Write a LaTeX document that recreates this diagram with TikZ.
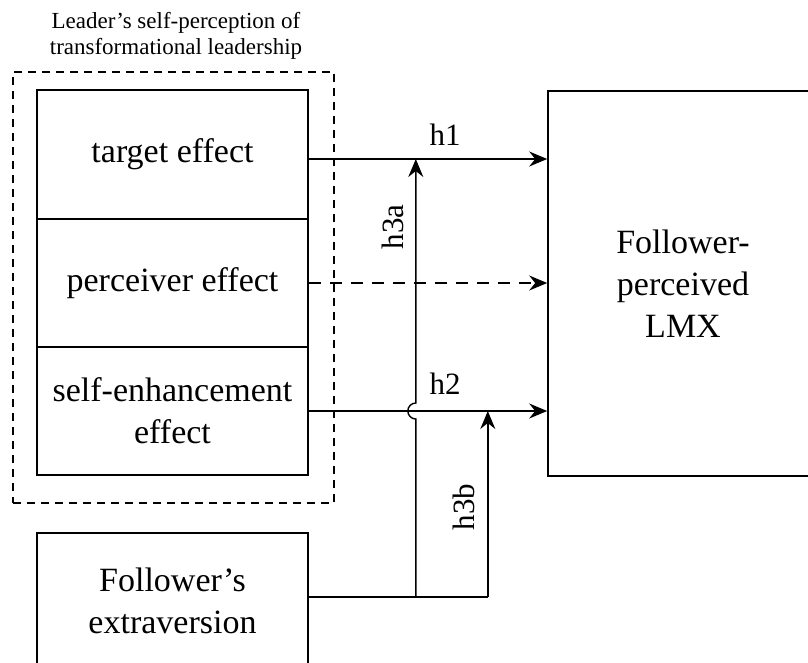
\documentclass[tikz,border=0pt]{standalone}
\usepackage{fontspec}
\setmainfont{Liberation Serif}
\usetikzlibrary{arrows.meta,calc}
\begin{document}
\begin{tikzpicture}[x=1pt,y=-1pt,
  box/.style={draw, line width=1.6pt, minimum width=271pt, align=center, inner sep=0pt, font=\fontsize{34}{42}\selectfont},
  arr/.style={line width=1.4pt, -{Stealth[length=18pt,width=15pt,inset=6pt]}},
  plain/.style={line width=1.4pt},
  hlab/.style={font=\fontsize{31}{36}\selectfont, inner sep=0pt},
  grpbox/.style={draw, line width=1.4pt, dash pattern=on 8pt off 6pt, minimum width=321pt, minimum height=431pt, inner sep=0pt},
]
\useasboundingbox (0,0) rectangle (808,662);

\node[align=center, font=\fontsize{23}{26}\selectfont, inner sep=0pt] (title) at (176,36) {Leader’s self-perception of\\transformational leadership};
\node[grpbox] (grp) at (173.5,287.5) {};

\node[box, minimum height=129pt] (te) at (172.5,154.5) {target effect};
\node[box, minimum height=128pt] (pe) at (172.5,283) {perceiver effect};
\node[box, minimum height=128pt] (se) at (172.5,411) {self-enhancement\\effect};
\node[box, minimum height=136pt] (fe) at (172.5,601) {Follower’s\\extraversion};
\node[box, minimum width=270pt, minimum height=385pt] (lmx) at (683,283.5) {Follower-\\perceived\\LMX};

\coordinate (h1s) at ([yshift=-4.5pt]te.east);
\draw[arr] (h1s) -- (h1s -| lmx.west);
\draw[arr, dash pattern=on 12pt off 9pt] (pe.east) -- (pe.east -| lmx.west);
\draw[arr] (se.east) -- (se.east -| lmx.west);

\coordinate (fo) at ([yshift=4pt]fe.east);
\coordinate (ja) at ($(fo)+(107,0)$);
\coordinate (jb) at ($(fo)+(179,0)$);
\draw[plain] (fo) -- (jb);
\draw[arr] (jb) -- (jb |- se.east);
\draw[arr] (ja) -- ($(ja |- se.east)+(0,8)$) arc[start angle=270, end angle=90, radius=8pt] -- (ja |- h1s);

\node[hlab] (l1) at (445,135) {h1};
\node[hlab] (l2) at (445,384) {h2};
\node[hlab, rotate=90] (l3a) at (393,227) {h3a};
\node[hlab, rotate=90] (l3b) at (464,507) {h3b};
\end{tikzpicture}
\end{document}
